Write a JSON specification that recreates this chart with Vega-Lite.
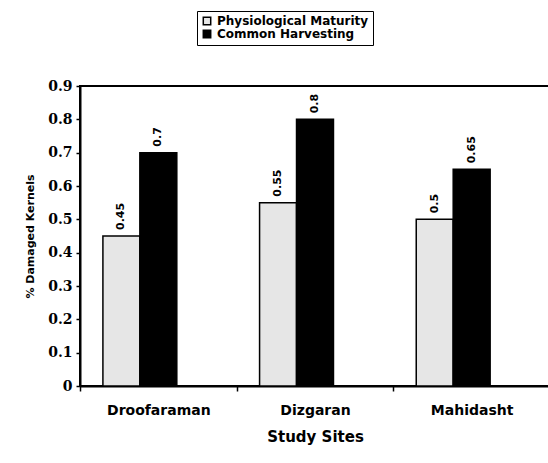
{
  "$schema": "https://vega.github.io/schema/vega-lite/v6.json",
  "width": 470,
  "height": 300,
  "autosize": "none",
  "padding": {"left": 80, "top": 86, "right": 0, "bottom": 77},
  "background": "white",
  "config": {
    "view": {"stroke": "black", "strokeWidth": 2},
    "axis": {"domainColor": "black", "domainWidth": 2, "tickColor": "black", "grid": false}
  },
  "data": {
    "values": [
      {"site": "Droofaraman", "stage": "Physiological Maturity", "value": 0.45, "label": "0.45"},
      {"site": "Droofaraman", "stage": "Common Harvesting", "value": 0.7, "label": "0.7"},
      {"site": "Dizgaran", "stage": "Physiological Maturity", "value": 0.55, "label": "0.55"},
      {"site": "Dizgaran", "stage": "Common Harvesting", "value": 0.8, "label": "0.8"},
      {"site": "Mahidasht", "stage": "Physiological Maturity", "value": 0.5, "label": "0.5"},
      {"site": "Mahidasht", "stage": "Common Harvesting", "value": 0.65, "label": "0.65"}
    ]
  },
  "encoding": {
    "x": {
      "field": "site", "type": "nominal", "sort": ["Droofaraman", "Dizgaran", "Mahidasht"],
      "scale": {"paddingInner": 0, "paddingOuter": 0},
      "axis": {
        "title": "Study Sites", "titleFont": "DejaVu Sans", "titleFontSize": 15, "titleFontWeight": "bold",
        "titlePadding": 12, "labelFont": "DejaVu Sans", "labelFontSize": 14, "labelFontWeight": "bold",
        "labelColor": "black", "titleColor": "black", "labelAngle": 0, "labelPadding": 12,
        "tickBand": "extent", "tickSize": 5, "tickWidth": 1.5
      }
    },
    "xOffset": {
      "field": "stage", "type": "nominal",
      "scale": {"domain": ["Physiological Maturity", "Common Harvesting", "pad"], "paddingInner": 0, "paddingOuter": 0.62}
    },
    "y": {
      "field": "value", "type": "quantitative",
      "scale": {"domain": [0, 0.9], "nice": false},
      "axis": {
        "title": "% Damaged Kernels", "titleFont": "DejaVu Sans", "titleFontSize": 11, "titleFontWeight": "bold",
        "titleColor": "black", "titlePadding": 12, "values": [0, 0.1, 0.2, 0.3, 0.4, 0.5, 0.6, 0.7, 0.8, 0.9],
        "format": ".1~f", "labelFont": "DejaVu Serif", "labelFontSize": 14, "labelFontWeight": "bold",
        "labelColor": "black", "tickSize": 4, "tickWidth": 1.5, "labelPadding": 4
      }
    }
  },
  "layer": [
    {
      "mark": {"type": "bar", "stroke": "black", "strokeWidth": 1.5},
      "encoding": {
        "color": {
          "field": "stage", "type": "nominal",
          "scale": {"domain": ["Physiological Maturity", "Common Harvesting"], "range": ["#e6e6e6", "#000000"]},
          "legend": {
            "title": null, "orient": "none", "legendX": 117, "legendY": -75, "direction": "vertical",
            "symbolType": "square", "symbolSize": 55, "symbolStrokeColor": "black", "symbolStrokeWidth": 1.5,
            "labelFont": "DejaVu Sans", "labelFontSize": 12, "labelFontWeight": "bold", "labelColor": "black",
            "rowPadding": -2, "labelOffset": 4, "strokeColor": "black", "padding": 4, "labelLimit": 300
          }
        }
      }
    },
    {
      "mark": {"type": "text", "angle": 270, "align": "left", "baseline": "middle", "dx": 6,
               "font": "DejaVu Sans", "fontSize": 11, "fontWeight": "bold", "color": "black"},
      "encoding": {"text": {"field": "label"}}
    }
  ]
}
